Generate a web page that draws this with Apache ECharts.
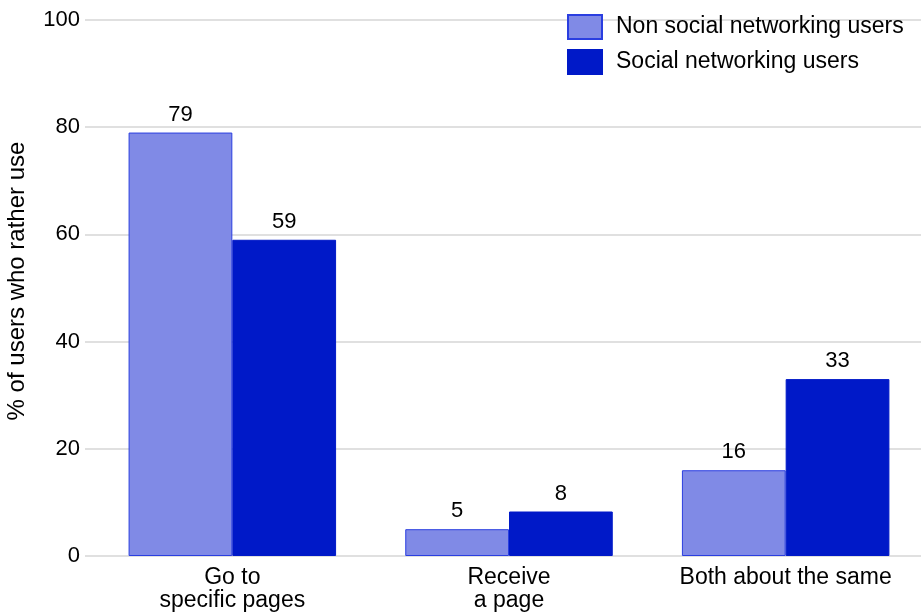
<!DOCTYPE html>
<html>
<head>
<meta charset="utf-8">
<script src="https://cdn.jsdelivr.net/npm/echarts@6/dist/echarts.min.js"></script>
<style>
  html, body { margin: 0; padding: 0; background: #ffffff; }
  #chart { width: 922px; height: 614px; }
</style>
</head>
<body>
<div id="chart"></div>
<script>
// Preference for going to specific pages vs. receiving a page
const categories = ['Go to\nspecific pages', 'Receive\na page', 'Both about the same'];
const nonSocialUsers = [79, 5, 16];
const socialUsers = [59, 8.3, 33];
const socialLabels = [59, 8, 33];
const seriesNames = ['Non social networking users', 'Social networking users'];
const yTicks = { min: 0, max: 100, step: 20 };

const FONT = 'Liberation Sans, Arial, Helvetica, sans-serif';
const chart = echarts.init(document.getElementById('chart'), null, { renderer: 'canvas' });

const labelStyle = {
  show: true,
  position: 'top',
  distance: 7,
  color: '#000',
  fontFamily: FONT,
  fontSize: 22
};

chart.setOption({
  backgroundColor: '#ffffff',
  animation: false,
  textStyle: { fontFamily: FONT },
  grid: [
    // value grid: carries the gridlines and tick labels
    { left: 85, right: 1, top: 20, bottom: 58, outerBoundsMode: 'none', containLabel: false },
    // bar grid
    { left: 94, width: 830, top: 20, bottom: 58, outerBoundsMode: 'none', containLabel: false }
  ],
  legend: {
    orient: 'vertical',
    left: 567,
    top: 14,
    padding: 0,
    itemWidth: 34,
    itemHeight: 24,
    itemGap: 9,
    icon: 'rect',
    textStyle: { fontFamily: FONT, fontSize: 23, color: '#000', padding: [0, 0, 0, 9] },
    data: seriesNames
  },
  xAxis: [
    { gridIndex: 0, type: 'value', min: 0, max: 1, show: false },
    {
      gridIndex: 1,
      type: 'category',
      data: categories,
      axisLine: { show: false },
      axisTick: { show: false },
      axisLabel: {
        margin: 10,
        color: '#000',
        fontFamily: FONT,
        fontSize: 23,
        lineHeight: 23,
        interval: 0
      }
    }
  ],
  yAxis: [
    {
      gridIndex: 0,
      type: 'value',
      min: yTicks.min,
      max: yTicks.max,
      interval: yTicks.step,
      name: '% of users who rather use',
      nameLocation: 'middle',
      nameGap: 56,
      nameTextStyle: { color: '#000', fontFamily: FONT, fontSize: 24, padding: [0, 0, 0, 14] },
      axisLine: { show: false },
      axisTick: { show: false },
      axisLabel: { margin: 5, color: '#000', fontFamily: FONT, fontSize: 22 },
      splitLine: { show: true, lineStyle: { color: '#e0e0e0', width: 2 } }
    },
    {
      gridIndex: 1,
      type: 'value',
      min: yTicks.min,
      max: yTicks.max,
      interval: yTicks.step,
      show: false,
      splitLine: { show: false }
    }
  ],
  series: [
    {
      name: seriesNames[0],
      type: 'bar',
      xAxisIndex: 1,
      yAxisIndex: 1,
      data: nonSocialUsers,
      barGap: '0%',
      barCategoryGap: '25%',
      itemStyle: { color: '#808ae6', borderColor: '#2a3ee0', borderWidth: 1 },
      label: labelStyle
    },
    {
      name: seriesNames[1],
      type: 'bar',
      xAxisIndex: 1,
      yAxisIndex: 1,
      data: socialUsers,
      barGap: '0%',
      barCategoryGap: '25%',
      itemStyle: { color: '#0019c8', borderColor: '#0019c8', borderWidth: 1 },
      label: Object.assign({}, labelStyle, {
        formatter: (p) => String(socialLabels[p.dataIndex])
      })
    }
  ]
});
</script>
</body>
</html>
